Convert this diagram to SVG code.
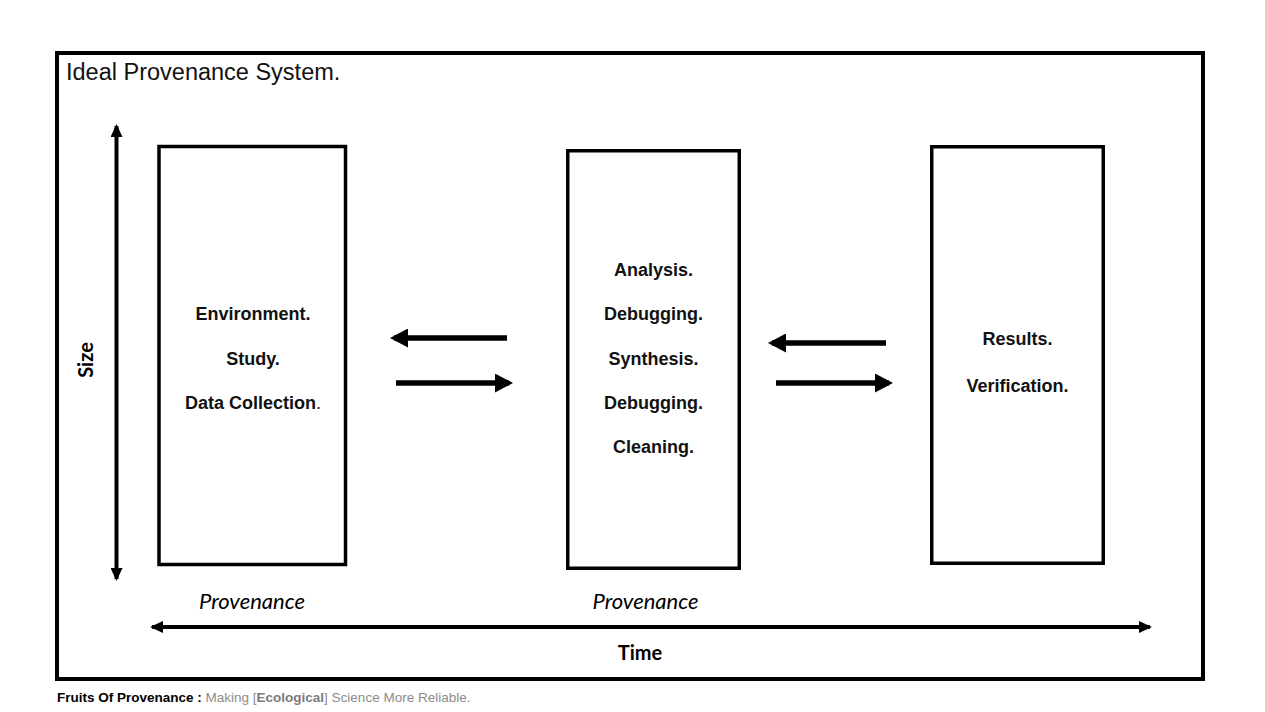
<svg xmlns="http://www.w3.org/2000/svg" width="1265" height="712" viewBox="0 0 1265 712">
<style>
.frame{fill:none;stroke:#000;stroke-width:4}
.box{fill:#fff;stroke:#000;stroke-width:3.5}
.lbl{font-family:"Liberation Sans",Arial,sans-serif;font-size:18px;font-weight:bold;fill:#111;text-anchor:middle}
.ax{stroke:#000;stroke-width:4;fill:none}
.flow{stroke:#000;stroke-width:5.5;fill:none}
.cal{font-family:Lato,"Open Sans",sans-serif;fill:#000}
.foot{font-family:"Liberation Sans",Arial,sans-serif;font-size:13.5px}
</style>
<defs>
<marker id="axHead" viewBox="0 0 13 12" refX="11" refY="6" markerWidth="13" markerHeight="12" markerUnits="userSpaceOnUse" orient="auto-start-reverse">
<path d="M0,0 L13,6 L0,12 Z" fill="#000"/>
</marker>
<marker id="flowHead" viewBox="0 0 18 19" refX="14" refY="9.5" markerWidth="18" markerHeight="19" markerUnits="userSpaceOnUse" orient="auto">
<path d="M0,0 L18,9.5 L0,19 Z" fill="#000"/>
</marker>
</defs>
<rect width="1265" height="712" fill="#fff"/>
<rect class="frame" x="57" y="53" width="1146" height="626"/>
<text x="66" y="80" font-family="Liberation Sans,Arial,sans-serif" font-size="23.5" fill="#111">Ideal Provenance System.</text>

<g id="node-collection">
<rect class="box" x="159" y="146.5" width="186.5" height="418"/>
<text class="lbl" x="253" y="320">Environment.</text>
<text class="lbl" x="253" y="364.5">Study.</text>
<text class="lbl" x="253" y="409">Data Collection<tspan font-weight="normal">.</tspan></text>
</g>
<g id="node-analysis">
<rect class="box" x="567.75" y="150.75" width="171.5" height="417.5"/>
<text class="lbl" x="653.5" y="276">Analysis.</text>
<text class="lbl" x="653.5" y="320">Debugging.</text>
<text class="lbl" x="653.5" y="364.5">Synthesis.</text>
<text class="lbl" x="653.5" y="409">Debugging.</text>
<text class="lbl" x="653.5" y="453">Cleaning.</text>
</g>
<g id="node-results">
<rect class="box" x="931.75" y="146.75" width="171.5" height="416.5"/>
<text class="lbl" x="1017.5" y="345">Results.</text>
<text class="lbl" x="1017.5" y="392">Verification.</text>
</g>

<g id="connectors">
<line class="flow" x1="507" y1="338" x2="394" y2="338" marker-end="url(#flowHead)"/>
<line class="flow" x1="396" y1="383" x2="509" y2="383" marker-end="url(#flowHead)"/>
<line class="flow" x1="886" y1="343" x2="772" y2="343" marker-end="url(#flowHead)"/>
<line class="flow" x1="776" y1="383" x2="889" y2="383" marker-end="url(#flowHead)"/>
</g>

<g id="axes">
<line class="ax" x1="116.5" y1="126" x2="116.5" y2="579" marker-start="url(#axHead)" marker-end="url(#axHead)"/>
<line class="ax" x1="152" y1="627" x2="1150" y2="627" marker-start="url(#axHead)" marker-end="url(#axHead)"/>
<text class="cal" transform="translate(93,360) rotate(-90)" text-anchor="middle" font-size="20" font-weight="bold">Size</text>
<text class="cal" x="640" y="660" text-anchor="middle" font-size="20" font-weight="bold">Time</text>
<text class="cal" x="252" y="609" text-anchor="middle" font-size="22" font-style="italic">Provenance</text>
<text class="cal" x="645.5" y="609" text-anchor="middle" font-size="22" font-style="italic">Provenance</text>
</g>

<text class="foot" x="57" y="702"><tspan font-weight="bold" fill="#000">Fruits Of Provenance : </tspan><tspan fill="#8c8c8c">Making [</tspan><tspan fill="#7a7a7a" font-weight="bold">Ecological</tspan><tspan fill="#8c8c8c">] Science More Reliable.</tspan></text>
</svg>
